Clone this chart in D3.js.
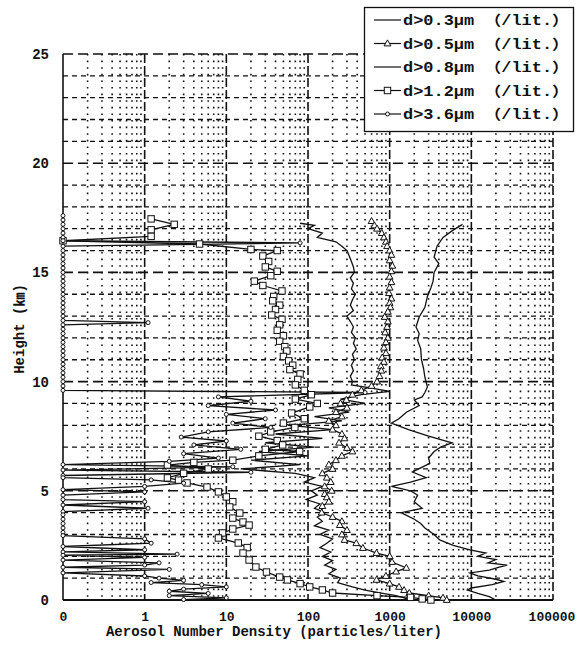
<!DOCTYPE html>
<html>
<head>
<meta charset="utf-8">
<script src="https://cdn.jsdelivr.net/npm/d3@7"></script>
<style>
  body { margin: 0; background: #fff; }
  svg { display: block; }
  text { font-family: "Liberation Mono", "Noto Sans CJK JP", monospace; font-weight: bold; fill: #111; }
</style>
</head>
<body>
<div id="chart"></div>
<script>
// [height km, particles per liter]  (0 is drawn on the left axis)
const d03 = [[17.2,7800],[16.9,5800],[16.6,4500],[16.2,3800],[15.7,3500],[15.4,4000],[15.0,3500],[14.6,3400],[14.3,3200],[13.9,2900],[13.4,2700],[12.96,2300],[12.5,2100],[12.2,2300],[11.9,2200],[11.5,2400],[11.0,2450],[10.6,2600],[10.2,2700],[9.75,2900],[9.5,2700],[9.3,2500],[9.16,2000],[8.9,2300],[8.6,1600],[8.3,1300],[8.1,1050],[7.8,1700],[7.5,3000],[7.2,5800],[7.0,4200],[6.8,3500],[6.5,3000],[6.26,3100],[6.05,2400],[5.86,1900],[5.6,2800],[5.4,1800],[5.2,1050],[5.0,1800],[4.8,2200],[4.5,2000],[4.2,2500],[4.0,1380],[3.7,2000],[3.5,2400],[3.3,2700],[3.0,3500],[2.75,4100],[2.5,6000],[2.3,9600],[2.15,15000],[2.0,12000],[1.85,20000],[1.7,16000],[1.6,27500],[1.5,22000],[1.37,16600],[1.24,9600],[1.1,12000],[0.95,20000],[0.85,25000],[0.7,18000],[0.55,10000],[0.45,9000],[0.3,12000],[0.15,16600],[0.0,20000]];

const d05 = [[17.35,600],[17.15,650],[17.0,700],[16.8,800],[16.6,850],[16.4,900],[16.2,930],[16.0,1000],[15.8,1050],[15.55,1000],[15.3,1080],[15.05,1050],[14.8,1000],[14.55,1050],[14.3,1000],[14.05,980],[13.8,1050],[13.6,1000],[13.4,1020],[13.2,950],[12.96,870],[12.75,950],[12.5,930],[12.25,880],[12.0,950],[11.8,900],[11.55,850],[11.3,900],[11.1,810],[10.9,850],[10.7,780],[10.5,790],[10.25,750],[10.0,700],[9.8,600],[9.6,450],[9.4,350],[9.16,295],[9.0,250],[8.8,300],[8.6,220],[8.4,260],[8.2,180],[8.0,220],[7.8,200],[7.6,260],[7.4,280],[7.2,240],[6.96,300],[6.8,350],[6.6,260],[6.4,220],[6.2,180],[6.0,200],[5.8,150],[5.6,170],[5.4,190],[5.2,160],[5.0,195],[4.85,160],[4.7,170],[4.5,180],[4.3,150],[4.0,147],[3.8,200],[3.6,260],[3.43,245],[3.2,300],[3.0,260],[2.75,280],[2.6,390],[2.38,470],[2.15,690],[2.0,1000],[1.74,1070],[1.47,1600],[1.3,1200],[1.1,900],[0.92,690],[0.75,1000],[0.6,1300],[0.45,1500],[0.32,1740],[0.2,3000],[0.1,4500],[0.0,5000]];

const d08 = [[17.25,80],[17.15,120],[17.0,100],[16.8,150],[16.6,130],[16.4,220],[16.2,260],[16.0,300],[15.75,320],[15.5,340],[15.25,360],[15.0,370],[14.75,330],[14.5,360],[14.25,340],[14.0,380],[13.75,350],[13.5,330],[13.25,360],[13.0,300],[12.75,330],[12.5,360],[12.25,340],[12.0,380],[11.75,360],[11.5,390],[11.25,350],[11.0,370],[10.75,340],[10.5,360],[10.25,330],[10.0,350],[9.85,340],[9.7,600],[9.55,1000],[9.4,450],[9.2,250],[9.0,500],[8.8,180],[8.6,320],[8.4,120],[8.2,260],[8.0,60],[7.8,200],[7.6,40],[7.4,150],[7.2,30],[7.0,120],[6.8,25],[6.6,100],[6.4,20],[6.2,80],[6.0,15],[5.8,70],[5.6,120],[5.4,90],[5.2,150],[5.0,110],[4.8,130],[4.6,95],[4.4,140],[4.2,120],[4.0,160],[3.8,130],[3.6,150],[3.4,120],[3.2,180],[3.0,140],[2.8,200],[2.6,170],[2.4,140],[2.2,190],[2.0,150],[1.8,200],[1.6,160],[1.4,220],[1.2,180],[1.0,250],[0.8,230],[0.6,350],[0.45,500],[0.35,700],[0.2,1200],[0.1,1500],[0.0,1800]];

const d12 = [[17.45,1.2],[17.2,2.3],[16.95,1.2],[16.65,1.2],[16.45,0],[16.3,4.7],[16.05,20],[16.0,42],[15.75,28],[15.5,33],[15.25,30],[15.05,42],[14.85,35],[14.6,22],[14.4,28],[14.15,48],[13.9,38],[13.7,37],[13.5,45],[13.3,40],[13.05,36],[12.85,48],[12.6,45],[12.35,42],[12.1,50],[11.85,45],[11.6,52],[11.4,55],[11.15,50],[10.95,58],[10.75,65],[10.55,60],[10.35,80],[10.1,75],[9.85,70],[9.6,90],[9.4,110],[9.2,70],[9.0,130],[8.84,105],[8.56,63],[8.3,90],[8.1,50],[7.9,69],[7.7,35],[7.5,25],[7.3,42],[7.1,49],[6.9,30],[6.8,79],[6.6,25],[6.4,12],[6.3,4],[6.18,1.9],[6.0,6],[5.8,3],[5.59,1.9],[5.49,2.6],[5.36,3.3],[5.17,5.8],[4.95,8],[4.72,10],[4.5,12],[4.26,11],[3.98,14.6],[3.75,12],[3.57,16],[3.43,19],[3.25,12],[3.07,9],[2.84,8],[2.61,14],[2.4,18],[2.15,16],[1.83,19],[1.51,23],[1.28,31],[1.05,45],[0.92,56],[0.75,80],[0.6,105],[0.46,150],[0.32,200],[0.2,700],[0.12,1800],[0.05,2500],[0.0,3200]];

const d36 = [[17.6,0],[17.4,0],[17.2,0],[17.0,0],[16.8,0],[16.6,0],[16.45,0],[16.35,80],[16.2,0],[16.0,0],[15.8,0],[15.6,0],[15.4,0],[15.2,0],[15.0,0],[14.8,0],[14.6,0],[14.4,0],[14.2,0],[14.0,0],[13.8,0],[13.6,0],[13.4,0],[13.2,0],[13.0,0],[12.8,0],[12.7,1.1],[12.6,0],[12.4,0],[12.2,0],[12.0,0],[11.8,0],[11.6,0],[11.4,0],[11.2,0],[11.0,0],[10.8,0],[10.6,0],[10.4,0],[10.2,0],[10.0,0],[9.8,0],[9.6,0],[9.5,500],[9.3,8],[9.1,20],[8.9,6],[8.7,40],[8.5,10],[8.3,30],[8.1,12],[7.9,35],[7.7,6],[7.46,2.8],[7.28,10],[7.1,4],[6.9,15],[6.7,3],[6.5,8],[6.35,2],[6.2,0],[6.1,12],[5.95,0],[5.85,20],[5.7,0],[5.6,0],[5.5,1.2],[5.35,3],[5.2,1],[5.05,0],[4.95,1],[4.8,0],[4.6,0],[4.5,1],[4.35,0],[4.2,1.1],[4.05,0],[3.9,0],[3.7,0],[3.5,0],[3.3,0],[3.1,0],[2.95,0],[2.8,1],[2.6,1.2],[2.45,0],[2.3,1],[2.2,0],[2.1,2.5],[2.05,0],[1.95,1],[1.83,0],[1.7,1.5],[1.6,1],[1.5,0],[1.4,2],[1.24,0],[1.1,1],[1.0,1.5],[0.9,3],[0.8,1.2],[0.7,5],[0.6,10],[0.5,3],[0.4,2],[0.3,6],[0.2,2],[0.1,10],[0.02,3]];

const seriesNames = ["d>0.3\u03bcm \uff08/lit.\uff09", "d>0.5\u03bcm \uff08/lit.\uff09", "d>0.8\u03bcm \uff08/lit.\uff09", "d>1.2\u03bcm \uff08/lit.\uff09", "d>3.6\u03bcm \uff08/lit.\uff09"];
const seriesMarkers = ["none", "triangle", "none", "square", "dot"];
const xTicks = [0.1, 1, 10, 100, 1000, 10000, 100000];
const xTickLabels = ["0", "1", "10", "100", "1000", "10000", "100000"];
const yTicks = [0, 5, 10, 15, 20, 25];

const W = 576, H = 647;
const plot = {left: 63, right: 553, top: 54, bottom: 600};

const svg = d3.select("#chart").append("svg")
  .attr("width", W).attr("height", H);

const x = d3.scaleLog().domain([0.1, 100000]).range([plot.left, plot.right]);
const y = d3.scaleLinear().domain([0, 25]).range([plot.bottom, plot.top]);
// zero can't go on a log axis, so it sits on the left edge
const px = v => v <= 0 ? x(0.1) : x(v);

// grid
const grid = svg.append("g").attr("stroke", "#111").attr("fill", "none");

// minor verticals, dotted
for (let dec = 0.1; dec < 100000; dec *= 10) {
  for (let m = 2; m <= 9; m++) {
    const xv = x(m * dec);
    grid.append("line")
      .attr("x1", xv).attr("x2", xv).attr("y1", plot.top).attr("y2", plot.bottom)
      .attr("stroke-width", 1.6).attr("stroke-dasharray", "1.6,5");
  }
}
// horizontal km lines
for (let k = 1; k <= 25; k++) {
  const major = k % 5 == 0;
  grid.append("line")
    .attr("x1", plot.left).attr("x2", plot.right).attr("y1", y(k)).attr("y2", y(k))
    .attr("stroke-width", major ? 1.6 : 1.3)
    .attr("stroke-dasharray", major ? "10,5" : "5,4");
}
// decade verticals, dashed
for (const v of xTicks.slice(1)) {
  grid.append("line")
    .attr("x1", x(v)).attr("x2", x(v)).attr("y1", plot.top).attr("y2", plot.bottom)
    .attr("stroke-width", 1.6).attr("stroke-dasharray", "9,3");
}
// axis lines
grid.append("line").attr("x1", plot.left).attr("x2", plot.left)
  .attr("y1", plot.top).attr("y2", plot.bottom).attr("stroke-width", 1.6);
grid.append("line").attr("x1", plot.left).attr("x2", plot.right)
  .attr("y1", plot.bottom).attr("y2", plot.bottom).attr("stroke-width", 1.8);

// axes (labels only)
const xAxis = d3.axisBottom(x).tickValues(xTicks)
  .tickFormat((d, i) => xTickLabels[i]).tickSize(0).tickPadding(0);
const gx = svg.append("g").attr("transform", `translate(0,${plot.bottom + 21})`).call(xAxis);
gx.select(".domain").remove();
gx.selectAll("text").attr("font-size", 13).attr("dy", 0)
  .style("font-family", "Liberation Mono").style("font-weight", "bold");
// last label sits against the right edge of the page
gx.selectAll(".tick").filter(d => d == 100000).select("text").attr("dx", -1.5);

const yAxis = d3.axisLeft(y).tickValues(yTicks).tickSize(0).tickPadding(0);
const gy = svg.append("g").attr("transform", `translate(${plot.left - 14},0)`).call(yAxis);
gy.select(".domain").remove();
gy.selectAll("text").attr("font-size", 14)
  .style("font-family", "Liberation Mono").style("font-weight", "bold");

// titles
svg.append("text").attr("x", 274).attr("y", 636).attr("text-anchor", "middle")
  .attr("font-size", 14).text("Aerosol Number Density (particles/liter)");
svg.append("text").attr("transform", "translate(24,329) rotate(-90)")
  .attr("text-anchor", "middle").attr("font-size", 14).text("Height (\u339e)");

// series
const line = d3.line().x(d => px(d[1])).y(d => y(d[0]));
const allSeries = [d03, d05, d08, d12, d36];

function drawMarker(g, kind, cx, cy) {
  if (kind == "triangle") {
    g.append("path").attr("d", `M${cx},${cy - 3.6}L${cx + 3.4},${cy + 2.4}L${cx - 3.4},${cy + 2.4}Z`)
      .attr("fill", "#fff").attr("stroke", "#111").attr("stroke-width", 1);
  } else if (kind == "square") {
    g.append("rect").attr("x", cx - 3.2).attr("y", cy - 3.2).attr("width", 6.4).attr("height", 6.4)
      .attr("fill", "#fff").attr("stroke", "#111").attr("stroke-width", 1);
  } else if (kind == "dot") {
    g.append("circle").attr("cx", cx).attr("cy", cy).attr("r", 2)
      .attr("fill", "#fff").attr("stroke", "#111").attr("stroke-width", 1);
  }
}

const sg = svg.append("g");
allSeries.forEach((data, i) => {
  sg.append("path").datum(data).attr("d", line)
    .attr("fill", "none").attr("stroke", "#111").attr("stroke-width", 1.3);
});
allSeries.forEach((data, i) => {
  const mg = sg.append("g");
  for (const d of data) drawMarker(mg, seriesMarkers[i], px(d[1]), y(d[0]));
});

// legend
const lg = svg.append("g");
lg.append("rect").attr("x", 364.5).attr("y", 7.5).attr("width", 209).attr("height", 124)
  .attr("fill", "#fff").attr("stroke", "#111").attr("stroke-width", 1.3);
const legendY = [20, 43.5, 67, 90.5, 114];
seriesNames.forEach((name, i) => {
  const ly = legendY[i];
  lg.append("line").attr("x1", 374).attr("x2", 401).attr("y1", ly).attr("y2", ly)
    .attr("stroke", "#111").attr("stroke-width", 1.2);
  drawMarker(lg, seriesMarkers[i], 387.5, ly);
  lg.append("text").attr("x", 403).attr("y", ly + 5).attr("font-size", 14)
    .attr("textLength", 166).attr("lengthAdjust", "spacingAndGlyphs").text(name);
});
</script>
</body>
</html>
